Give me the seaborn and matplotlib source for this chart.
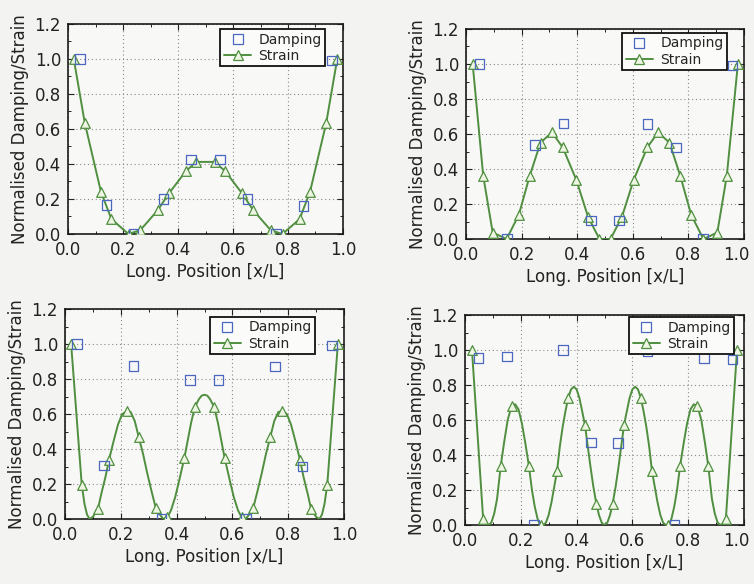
import numpy as np
import matplotlib
matplotlib.use("Agg")
import matplotlib.pyplot as plt
from matplotlib.lines import Line2D
from matplotlib.ticker import MultipleLocator
from matplotlib.transforms import ScaledTranslation
import seaborn as sns

# ---------------- data ----------------
# Panel 1 (first mode)
p1_tri_x = [0.021, 0.061, 0.120, 0.158, 0.220, 0.263, 0.326, 0.367, 0.429, 0.467,
            0.533, 0.571, 0.633, 0.674, 0.737, 0.780, 0.842, 0.880, 0.939, 0.979]
p1_tri_y = [1.0, 0.635, 0.24, 0.085, 0.0, 0.022, 0.135, 0.232, 0.36, 0.412,
            0.412, 0.36, 0.232, 0.135, 0.022, 0.0, 0.085, 0.24, 0.635, 1.0]
p1_bend_x = []
p1_bend_y = []
p1_sq_x = [0.043, 0.140, 0.238, 0.347, 0.448, 0.553, 0.652, 0.757, 0.856, 0.960]
p1_sq_y = [1.0, 0.165, 0.0, 0.2, 0.427, 0.427, 0.2, 0.0, 0.16, 0.99]

# Panel 2 (second mode)
p2_tri_x = [0.024, 0.062, 0.096, 0.146, 0.190, 0.229, 0.268, 0.309, 0.348, 0.397, 0.439, 0.480,
            0.520, 0.561, 0.603, 0.652, 0.691, 0.732, 0.771, 0.810, 0.854, 0.904, 0.938, 0.978]
p2_tri_y = [1.0, 0.36, 0.037, 0.0, 0.138, 0.36, 0.55, 0.61, 0.523, 0.337, 0.127, 0.0,
            0.0, 0.127, 0.337, 0.523, 0.61, 0.55, 0.36, 0.138, 0.0, 0.037, 0.36, 1.0]
p2_bend_x = []
p2_bend_y = []
p2_sq_x = [0.048, 0.148, 0.248, 0.350, 0.450, 0.550, 0.652, 0.755, 0.852, 0.959]
p2_sq_y = [1.0, 0.0, 0.537, 0.66, 0.105, 0.105, 0.657, 0.524, 0.0, 0.99]

# Panel 3 (third mode)
p3_tri_x = [0.022, 0.060, 0.118, 0.158, 0.222, 0.264, 0.325, 0.367, 0.428, 0.465,
            0.535, 0.572, 0.633, 0.675, 0.736, 0.778, 0.842, 0.882, 0.940, 0.978]
p3_tri_y = [1.0, 0.196, 0.057, 0.34, 0.615, 0.47, 0.065, 0.01, 0.35, 0.638,
            0.638, 0.35, 0.01, 0.065, 0.47, 0.615, 0.34, 0.057, 0.196, 1.0]
p3_bend_x = [0.070, 0.079, 0.088, 0.100, 0.130, 0.145, 0.175, 0.190, 0.205, 0.235,
             0.250, 0.280, 0.295, 0.310, 0.338, 0.352, 0.380, 0.395, 0.410, 0.440,
             0.452, 0.480, 0.490, 0.500,
             0.510, 0.520, 0.548, 0.560, 0.590, 0.605, 0.620, 0.648, 0.662, 0.690,
             0.705, 0.720, 0.750, 0.765, 0.795, 0.810, 0.825, 0.855, 0.870, 0.900,
             0.912, 0.921, 0.930]
p3_bend_y = [0.085, 0.025, 0.0, 0.012, 0.143, 0.24, 0.45, 0.54, 0.60, 0.612,
             0.56, 0.37, 0.26, 0.16, 0.03, 0.0, 0.05, 0.125, 0.225, 0.45,
             0.55, 0.685, 0.705, 0.71,
             0.705, 0.685, 0.55, 0.45, 0.225, 0.125, 0.05, 0.0, 0.03, 0.16,
             0.26, 0.37, 0.56, 0.612, 0.60, 0.54, 0.45, 0.24, 0.143, 0.012,
             0.0, 0.025, 0.085]
p3_sq_x = [0.043, 0.140, 0.246, 0.345, 0.448, 0.550, 0.648, 0.752, 0.851, 0.957]
p3_sq_y = [1.0, 0.305, 0.875, 0.0, 0.794, 0.794, 0.0, 0.872, 0.30, 0.99]

# Panel 4 (fourth mode)
p4_tri_x = [0.025, 0.065, 0.128, 0.167, 0.229, 0.272, 0.330, 0.370, 0.430, 0.471,
            0.529, 0.570, 0.630, 0.670, 0.728, 0.771, 0.833, 0.872, 0.935, 0.975]
p4_tri_y = [1.0, 0.035, 0.337, 0.68, 0.337, 0.0, 0.31, 0.727, 0.571, 0.12,
            0.12, 0.571, 0.727, 0.31, 0.0, 0.337, 0.68, 0.337, 0.035, 1.0]
p4_bend_x = [0.075, 0.086, 0.095, 0.105, 0.115, 0.140, 0.153, 0.180, 0.192, 0.204,
             0.216, 0.240, 0.250, 0.260, 0.267, 0.280, 0.290, 0.300, 0.310, 0.320,
             0.340, 0.350, 0.360, 0.380, 0.390, 0.400, 0.410, 0.420, 0.440, 0.450,
             0.460, 0.480, 0.490, 0.500,
             0.510, 0.520, 0.540, 0.550, 0.560, 0.580, 0.590, 0.600, 0.610, 0.620,
             0.640, 0.650, 0.660, 0.680, 0.690, 0.700, 0.710, 0.720, 0.733, 0.740,
             0.750, 0.760, 0.784, 0.796, 0.808, 0.820, 0.847, 0.860, 0.885, 0.895,
             0.905, 0.914, 0.925]
p4_bend_y = [0.008, 0.0, 0.016, 0.067, 0.15, 0.47, 0.60, 0.69, 0.66, 0.58,
             0.47, 0.20, 0.105, 0.036, 0.008, 0.0, 0.013, 0.058, 0.13, 0.22,
             0.45, 0.56, 0.65, 0.775, 0.79, 0.775, 0.726, 0.65, 0.45, 0.33,
             0.22, 0.058, 0.013, 0.0,
             0.013, 0.058, 0.22, 0.33, 0.45, 0.65, 0.726, 0.775, 0.79, 0.775,
             0.65, 0.56, 0.45, 0.22, 0.13, 0.058, 0.013, 0.0, 0.008, 0.036,
             0.105, 0.20, 0.47, 0.58, 0.66, 0.69, 0.60, 0.47, 0.15, 0.067,
             0.016, 0.0, 0.008]
p4_sq_x = [0.048, 0.150, 0.248, 0.352, 0.452, 0.548, 0.654, 0.750, 0.857, 0.959]
p4_sq_y = [0.955, 0.962, 0.0, 1.0, 0.47, 0.468, 0.99, 0.0, 0.955, 0.945]

x_ticks = [0.0, 0.2, 0.4, 0.6, 0.8, 1.0]
y_ticks = [0.0, 0.2, 0.4, 0.6, 0.8, 1.0, 1.2]
legend_labels = ["Damping", "Strain"]

# ---------------- style ----------------
sns.set_style("white")
plt.rcParams["font.family"] = ["DejaVu Sans"]

GREEN = "#4f8f3f"
TRI_FACE = "#eef5e2"
BLUE = "#4a68c0"
PAGE = "#f3f3f1"

W, H = 754, 584
fig = plt.figure(figsize=(W / 100, H / 100), dpi=100, facecolor=PAGE)

# axes boxes in pixels: left, right, top, bottom ; legend anchor in axes fraction
panels = [
    dict(box=(68, 343, 24, 234), tri=(p1_tri_x, p1_tri_y), bend=(p1_bend_x, p1_bend_y),
         sq=(p1_sq_x, p1_sq_y), leg=(0.935, 0.976), edge=False),
    dict(box=(466, 744, 29, 239), tri=(p2_tri_x, p2_tri_y), bend=(p2_bend_x, p2_bend_y),
         sq=(p2_sq_x, p2_sq_y), leg=(0.939, 0.981), edge=True),
    dict(box=(65, 344, 309, 519), tri=(p3_tri_x, p3_tri_y), bend=(p3_bend_x, p3_bend_y),
         sq=(p3_sq_x, p3_sq_y), leg=(0.896, 0.962), edge=False),
    dict(box=(465, 744, 315, 525), tri=(p4_tri_x, p4_tri_y), bend=(p4_bend_x, p4_bend_y),
         sq=(p4_sq_x, p4_sq_y), leg=(0.964, 0.99), edge=True),
]

for p in panels:
    l, r, t, b = p["box"]
    ax = fig.add_axes([l / W, 1 - b / H, (r - l) / W, (b - t) / H])
    ax.set_facecolor("#f8f8f6")

    tx, ty = p["tri"]
    bx, by = p["bend"]
    cx = np.concatenate([tx, bx])
    cy = np.concatenate([ty, by])
    order = np.argsort(cx, kind="stable")
    cx, cy = cx[order], cy[order]

    sns.lineplot(x=cx, y=cy, ax=ax, sort=False, estimator=None,
                 color=GREEN, linewidth=1.4, zorder=3)
    sns.scatterplot(x=tx, y=ty, ax=ax, marker="^", s=48, color=GREEN,
                    facecolor=TRI_FACE, edgecolor=GREEN, linewidth=0.9, zorder=4)
    sx, sy = p["sq"]
    sns.scatterplot(x=sx, y=sy, ax=ax, marker="s", s=46, color=BLUE,
                    facecolor="none", edgecolor=BLUE, linewidth=0.9, zorder=5)

    ax.set_xlim(0, 1)
    ax.set_ylim(0, 1.2)
    ax.set_xticks(x_ticks)
    ax.set_yticks(y_ticks)
    ax.set_xticklabels([f"{v:.1f}" for v in x_ticks], fontsize=12)
    ax.set_yticklabels([f"{v:.1f}" for v in y_ticks], fontsize=12)
    ax.xaxis.set_minor_locator(MultipleLocator(0.1))
    ax.yaxis.set_minor_locator(MultipleLocator(0.1))
    ax.tick_params(which="both", direction="in", top=True, right=True,
                   bottom=True, left=True, colors="#222222")
    ax.tick_params(which="major", length=4, width=0.8, pad=5)
    ax.tick_params(which="minor", length=2.5, width=0.7)
    ax.grid(True, which="major", linestyle=(0, (1, 2.5)), color="#8a8a8a", linewidth=0.8)
    for s in ax.spines.values():
        s.set_color("#1a1a1a")
        s.set_linewidth(1.2)

    if p["edge"]:
        # keep the last tick label inside the page
        last = ax.get_xticklabels()[-1]
        last.set_transform(last.get_transform()
                           + ScaledTranslation(-8 / 100, 0, fig.dpi_scale_trans))

    ax.set_xlabel("Long. Position [x/L]", fontsize=12, labelpad=3, color="#222222")
    ax.set_ylabel("Normalised Damping/Strain", fontsize=12, labelpad=4, color="#222222")

    handles = [
        Line2D([], [], marker="s", linestyle="none", markersize=7,
               markerfacecolor="none", markeredgecolor=BLUE, markeredgewidth=0.9),
        Line2D([], [], marker="^", color=GREEN, linewidth=1.4, markersize=7,
               markerfacecolor=TRI_FACE, markeredgecolor=GREEN, markeredgewidth=0.9),
    ]
    leg = ax.legend(handles, legend_labels, loc="upper right",
                    bbox_to_anchor=p["leg"], fontsize=10, frameon=True,
                    fancybox=False, framealpha=1, edgecolor="#111111",
                    borderpad=0.25, handlelength=2.0, handletextpad=0.5,
                    labelspacing=0.15, borderaxespad=0)
    leg.get_frame().set_linewidth(1.3)
    leg.get_frame().set_facecolor("#fbfbfa")

fig.savefig("out.png", dpi=100, facecolor=PAGE)
